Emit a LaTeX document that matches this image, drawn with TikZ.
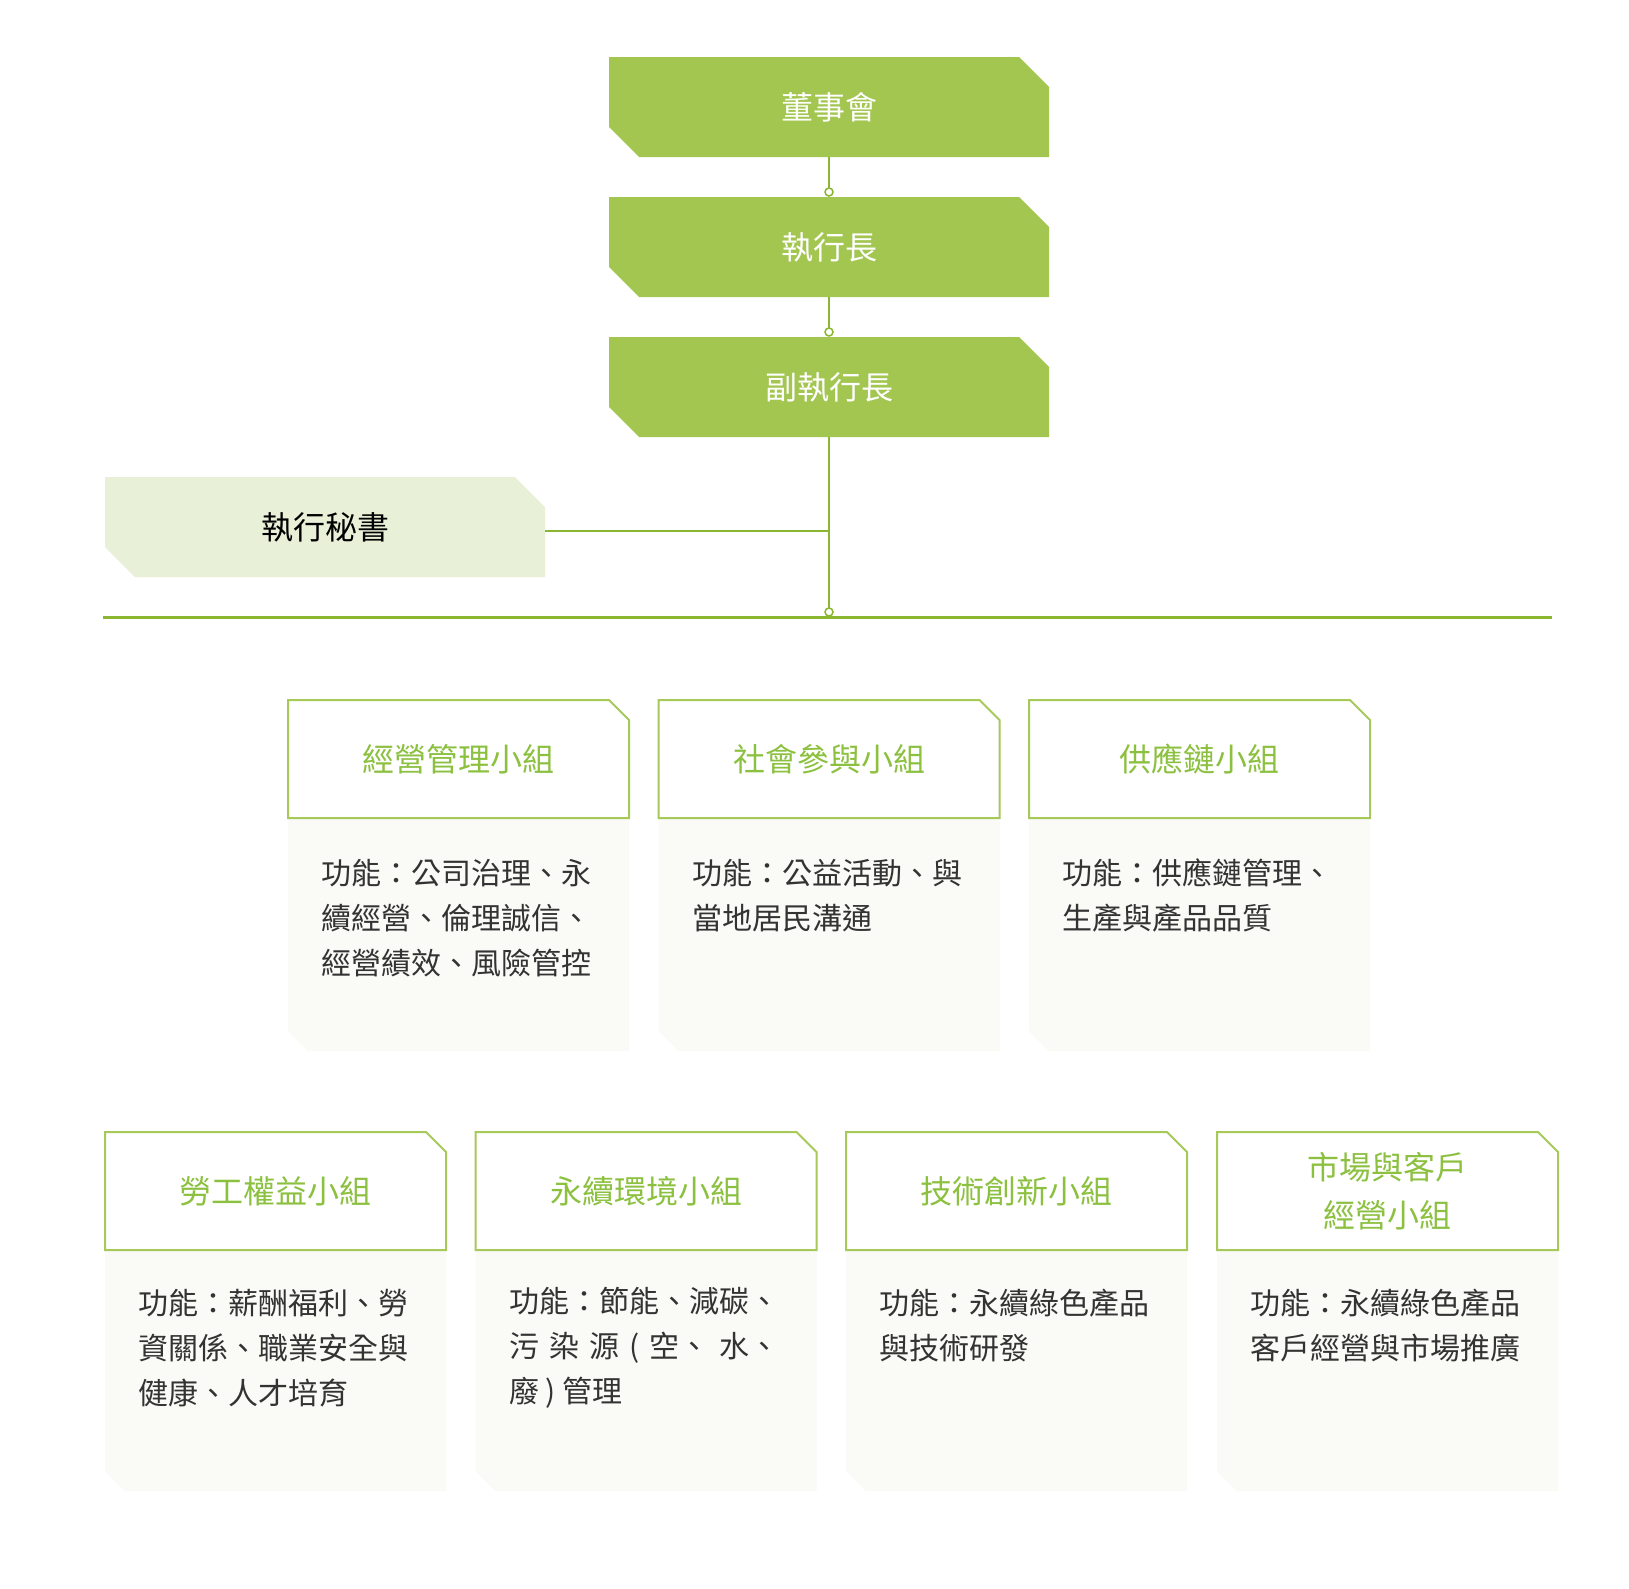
\documentclass[tikz,border=0pt]{standalone}
\usepackage{fontspec}
\setmainfont{Noto Sans CJK TC}
\usetikzlibrary{backgrounds}
\pgfdeclarelayer{paper}
\pgfsetlayers{paper,background,main}
\definecolor{topgreen}{HTML}{A3C651}
\definecolor{secfill}{HTML}{E8F1D7}
\definecolor{linegreen}{HTML}{8BB631}
\definecolor{hdrline}{HTML}{A6C95A}
\definecolor{hdrtext}{HTML}{8CC03F}
\definecolor{bodyfill}{HTML}{FAFBF6}
\definecolor{bodytext}{HTML}{333333}
\newlength\lnw
\newcommand\chamfpath[3]{(#1.north west) -- ([xshift=-#2]#1.north east) -- ([yshift=-#2]#1.north east) -- (#1.south east) -- ([xshift=#3]#1.south west) -- ([yshift=#3]#1.south west) -- cycle}
\newcommand\orgcard[8]{%
  \node[hdr] (#1h) at (#2,#3) {#7};
  \node[bodyb, minimum height=#5] (#1b) at (#2,#4) {};
  \node[bodytxt] (#1t) at ([xshift=33.5pt]#1b.west |- 0,#6) {#8};
  \begin{scope}[on background layer]
    \fill[bodyfill] \chamfpath{#1b}{0}{20};
    \draw[hdrline, line width=2pt, fill=white] \chamfpath{#1h}{20}{0};
  \end{scope}
}
\begin{document}
\begin{tikzpicture}[x=1pt,y=-1pt,
  topbox/.style={minimum width=440pt, minimum height=100pt, inner sep=0pt, outer sep=0pt,
    text=white, font=\fontsize{32}{38}\selectfont},
  secbox/.style={minimum width=440pt, minimum height=100pt, inner sep=0pt, outer sep=0pt,
    text=black, font=\fontsize{32}{38}\selectfont},
  dot/.style={circle, draw=linegreen, fill=white, line width=1.5pt, minimum size=8pt, inner sep=0pt, outer sep=0pt},
  conn/.style={draw=linegreen, line width=2pt},
  busline/.style={draw=linegreen, line width=3pt},
  hdr/.style={minimum width=341pt, minimum height=118pt, inner sep=0pt, outer sep=0pt,
    text=hdrtext, align=center, font=\fontsize{32}{48}\selectfont},
  bodyb/.style={minimum width=341pt, inner sep=0pt, outer sep=0pt},
  bodytxt/.style={anchor=west, inner sep=0pt, align=left, text=bodytext,
    font=\fontsize{30}{45}\selectfont}
]
\begin{pgfonlayer}{paper}
\fill[white] (0,0) rectangle (1629,1588);
\end{pgfonlayer}
\useasboundingbox (0,0) rectangle (1629,1588);

% top chain
\node[topbox] (board) at (829,107) {董事會};
\node[topbox] (ceo) at (829,247) {執行長};
\node[topbox] (vp) at (829,387) {副執行長};
\node[secbox] (sec) at (325,527) {執行秘書};
\begin{scope}[on background layer]
  \fill[topgreen] \chamfpath{board}{30}{30};
  \fill[topgreen] \chamfpath{ceo}{30}{30};
  \fill[topgreen] \chamfpath{vp}{30}{30};
  \fill[secfill] \chamfpath{sec}{30}{30};
\end{scope}

\coordinate (busL) at (103,617);
\coordinate (busR) at (1552,617);
\draw[busline] (busL) -- (busR);

\draw[conn] (board.south) -- (829,188);
\draw[conn] (ceo.south) -- (829,328);
\draw[conn] (vp.south) -- (829,608);
\draw[conn] ([yshift=-4pt]sec.east) -- ([yshift=-4pt]sec.east -| vp.south);
\node[dot] (d1) at (829,192) {};
\node[dot] (d2) at (829,332) {};
\node[dot] (d3) at (829,612) {};

% row 1
\orgcard{a}{458.5}{759}{934.5}{233pt}{918}{經營管理小組}{功能：公司治理、永\\續經營、倫理誠信、\\經營績效、風險管控}
\orgcard{b}{829}{759}{934.5}{233pt}{895.5}{社會參與小組}{功能：公益活動、與\\當地居民溝通}
\orgcard{c}{1199.5}{759}{934.5}{233pt}{895.5}{供應鏈小組}{功能：供應鏈管理、\\生產與產品品質}

% row 2
\orgcard{d}{275.5}{1191}{1370.5}{241pt}{1348}{勞工權益小組}{功能：薪酬福利、勞\\資關係、職業安全與\\健康、人才培育}
\orgcard{e}{646}{1191}{1370.5}{241pt}{1348}{永續環境小組}{功能：節能、減碳、\\{\settowidth{\lnw}{功能：節能、減碳、}\makebox[\lnw][s]{污 染 源 ( 空、 水、}}\\廢 ) 管理}
\orgcard{f}{1016.5}{1191}{1370.5}{241pt}{1325.5}{技術創新小組}{功能：永續綠色產品\\與技術研發}
\orgcard{g}{1387.5}{1191}{1370.5}{241pt}{1325.5}{市場與客戶\\經營小組}{功能：永續綠色產品\\客戶經營與市場推廣}
\end{tikzpicture}
\end{document}
